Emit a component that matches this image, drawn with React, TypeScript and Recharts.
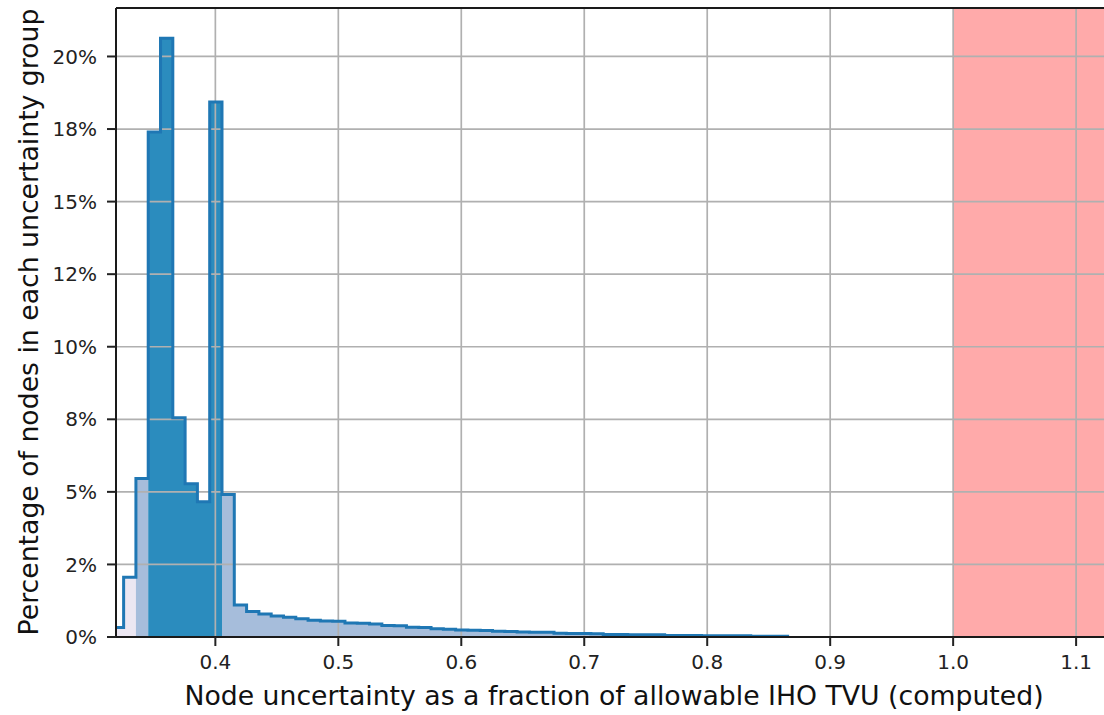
import React from 'react';
import {
  ComposedChart,
  Area,
  Line,
  XAxis,
  YAxis,
  CartesianGrid,
  ReferenceArea,
  ReferenceLine,
  Label,
} from 'recharts';

// Histogram bin edges (fraction of allowable IHO TVU)
const binEdges = [
  0.3154, 0.3254, 0.3354, 0.3454, 0.3554, 0.3654, 0.3754, 0.3854, 0.3954, 0.4054,
  0.4154, 0.4254, 0.4354, 0.4454, 0.4554, 0.4654, 0.4754, 0.4854, 0.4954, 0.5054,
  0.5154, 0.5254, 0.5354, 0.5454, 0.5554, 0.5654, 0.5754, 0.5854, 0.5954, 0.6054,
  0.6154, 0.6254, 0.6354, 0.6454, 0.6554, 0.6654, 0.6754, 0.6854, 0.6954, 0.7054,
  0.7154, 0.7254, 0.7354, 0.7454, 0.7554, 0.7654, 0.7754, 0.7854, 0.7954, 0.8054,
  0.8154, 0.8254, 0.8354, 0.8454, 0.8554, 0.8654,
];

// Percentage of nodes in each bin
const binPercent = [
  0.33, 2.06, 5.46, 17.4, 20.63, 7.55, 5.28, 4.66, 18.43, 4.91,
  1.1, 0.88, 0.79, 0.72, 0.68, 0.63, 0.58, 0.55, 0.54, 0.48,
  0.47, 0.45, 0.4, 0.39, 0.34, 0.33, 0.28, 0.27, 0.24, 0.23,
  0.22, 0.2, 0.19, 0.17, 0.16, 0.16, 0.13, 0.12, 0.12, 0.11,
  0.09, 0.09, 0.08, 0.08, 0.08, 0.05, 0.05, 0.05, 0.04, 0.04,
  0.04, 0.04, 0.03, 0.03, 0.03,
];

// Fill group of each bin
const binGroup = [
  'lav', 'lav', 'mid', 'dark', 'dark', 'dark', 'dark', 'dark', 'dark', 'mid',
  'mid', 'mid', 'mid', 'mid', 'mid', 'mid', 'mid', 'mid', 'mid', 'mid',
  'mid', 'mid', 'mid', 'mid', 'mid', 'mid', 'mid', 'mid', 'mid', 'mid',
  'mid', 'mid', 'mid', 'mid', 'mid', 'mid', 'mid', 'mid', 'mid', 'mid',
  'mid', 'mid', 'mid', 'mid', 'mid', 'mid', 'mid', 'mid', 'mid', 'mid',
  'mid', 'mid', 'mid', 'mid', 'mid',
];

const groups = ['lav', 'mid', 'dark'];
const groupColors: Record<string, string> = {
  lav: '#ece7f2',
  mid: '#a6bddb',
  dark: '#2b8cbe',
};

const xTicks = [0.4, 0.5, 0.6, 0.7, 0.8, 0.9, 1.0, 1.1];
const yTicks = [0, 2.5, 5, 7.5, 10, 12.5, 15, 17.5, 20];
const yTickLabels = ['0%', '2%', '5%', '8%', '10%', '12%', '15%', '18%', '20%'];
const xDomain = [0.3192, 1.13];
const yDomain = [0, 21.67];
const limitStart = 1.0;

const xLabelText = 'Node uncertainty as a fraction of allowable IHO TVU (computed)';
const yLabelText = 'Percentage of nodes in each uncertainty group';

const rows = binEdges.map((x, j) => {
  const row: Record<string, number | null> = {
    x,
    v: j < binPercent.length ? binPercent[j] : 0,
  };
  groups.forEach((g) => {
    if (j < binPercent.length && binGroup[j] === g) row[g] = binPercent[j];
    else if (j > 0 && binGroup[j - 1] === g) row[g] = binPercent[j - 1];
    else row[g] = null;
  });
  return row;
});

const FONT = '"DejaVu Sans", sans-serif';

export default function App() {
  return (
    <div
      style={{
        position: 'absolute',
        left: 0,
        top: 0,
        width: 1104,
        height: 715,
        overflow: 'hidden',
        background: '#fff',
        fontFamily: FONT,
      }}
    >
      <ComposedChart
        width={1130}
        height={715}
        data={rows}
        margin={{ top: 8, right: 17, bottom: 8, left: 16 }}
      >
        <ReferenceArea
          x1={limitStart}
          x2={xDomain[1]}
          y1={yDomain[0]}
          y2={yDomain[1]}
          fill="#ffaaaa"
          fillOpacity={1}
          stroke="none"
          ifOverflow="hidden"
          zIndex={50}
        />
        {groups.map((g) => (
          <Area
            key={g}
            dataKey={g}
            type="stepAfter"
            fill={groupColors[g]}
            fillOpacity={1}
            stroke="none"
            connectNulls={false}
            isAnimationActive={false}
            dot={false}
            activeDot={false}
            zIndex={100}
          />
        ))}
        <CartesianGrid
          stroke="#b0b0b0"
          strokeWidth={1.7}
          strokeDasharray=""
          zIndex={150}
        />
        <Line
          dataKey="v"
          type="stepAfter"
          stroke="#1f77b4"
          strokeWidth={3}
          dot={false}
          activeDot={false}
          isAnimationActive={false}
          zIndex={400}
        />
        <ReferenceLine y={yDomain[1]} stroke="#1a1a1a" strokeWidth={2} zIndex={600} />
        <XAxis
          dataKey="x"
          type="number"
          domain={xDomain}
          allowDataOverflow
          ticks={xTicks}
          interval={0}
          tickFormatter={(v: number) => v.toFixed(1)}
          height={70}
          tickSize={9}
          tickMargin={9}
          tick={{ fill: '#222', fontSize: 20, fontFamily: FONT }}
          tickLine={{ stroke: '#222', strokeWidth: 2 }}
          axisLine={{ stroke: '#1a1a1a', strokeWidth: 2 }}
        >
          <Label
            content={() => (
              <text
                x={614}
                y={705}
                textAnchor="middle"
                fontSize={26.7}
                fontFamily={FONT}
                fill="#111"
              >
                {xLabelText}
              </text>
            )}
          />
        </XAxis>
        <YAxis
          type="number"
          domain={yDomain}
          allowDataOverflow
          ticks={yTicks}
          interval={0}
          tickFormatter={(v: number) => yTickLabels[yTicks.indexOf(v)]}
          width={100}
          tickSize={9}
          tickMargin={10}
          tick={{ fill: '#222', fontSize: 20, fontFamily: FONT }}
          tickLine={{ stroke: '#222', strokeWidth: 2 }}
          axisLine={{ stroke: '#1a1a1a', strokeWidth: 2 }}
        >
          <Label
            content={() => (
              <text
                x={28}
                y={322}
                transform="rotate(-90 28 322)"
                textAnchor="middle"
                dominantBaseline="central"
                fontSize={26.7}
                fontFamily={FONT}
                fill="#111"
              >
                {yLabelText}
              </text>
            )}
          />
        </YAxis>
      </ComposedChart>
    </div>
  );
}
